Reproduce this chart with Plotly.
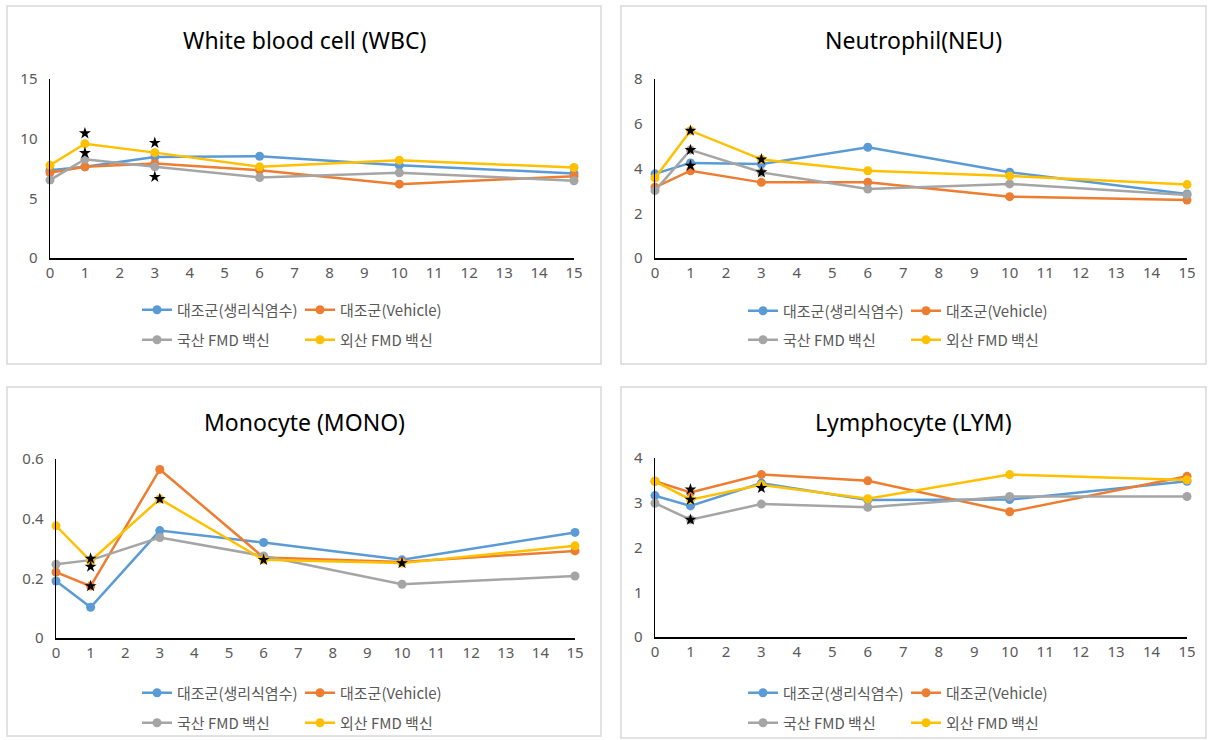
import plotly.graph_objects as go

days = [0, 1, 3, 6, 10, 15]
series_names = ["대조군(생리식염수)", "대조군(Vehicle)", "국산 FMD 백신", "외산 FMD 백신"]
colors = ["#5B9BD5", "#ED7D31", "#A5A5A5", "#FFC000"]

titles = ["White blood cell (WBC)", "Neutrophil(NEU)", "Monocyte (MONO)", "Lymphocyte (LYM)"]

wbc_saline = [7.36, 7.65, 8.47, 8.53, 7.78, 7.08]
wbc_vehicle = [7.14, 7.64, 7.92, 7.36, 6.19, 6.86]
wbc_domestic = [6.53, 8.28, 7.64, 6.75, 7.14, 6.47]
wbc_foreign = [7.78, 9.58, 8.83, 7.64, 8.19, 7.58]

neu_saline = [3.76, 4.25, 4.20, 4.95, 3.83, 2.86]
neu_vehicle = [3.16, 3.90, 3.38, 3.38, 2.74, 2.59]
neu_domestic = [3.01, 4.83, 3.83, 3.08, 3.31, 2.82]
neu_foreign = [3.58, 5.69, 4.41, 3.90, 3.67, 3.28]

mono_saline = [0.191, 0.103, 0.360, 0.320, 0.262, 0.354]
mono_vehicle = [0.221, 0.174, 0.565, 0.270, 0.255, 0.292]
mono_domestic = [0.247, 0.261, 0.337, 0.275, 0.180, 0.208]
mono_foreign = [0.376, 0.258, 0.466, 0.262, 0.251, 0.309]

lym_saline = [3.16, 2.93, 3.44, 3.06, 3.07, 3.48]
lym_vehicle = [3.48, 3.23, 3.63, 3.49, 2.80, 3.59]
lym_domestic = [2.99, 2.62, 2.97, 2.90, 3.14, 3.14]
lym_foreign = [3.48, 3.07, 3.40, 3.09, 3.63, 3.51]

wbc_star_x = [1, 1, 3, 3]
wbc_star_y = [10.45, 8.8, 9.65, 6.8]
neu_star_x = [1, 1, 1, 3, 3]
neu_star_y = [5.69, 4.83, 4.13, 4.41, 3.83]
mono_star_x = [1, 1, 1, 3, 6, 10]
mono_star_y = [0.266, 0.239, 0.174, 0.466, 0.262, 0.251]
lym_star_x = [1, 1, 1, 3]
lym_star_y = [3.30, 3.07, 2.62, 3.33]

y_max = [15, 8, 0.6, 4]
y_dtick = [5, 2, 0.2, 1]

panel_data = [
    [wbc_saline, wbc_vehicle, wbc_domestic, wbc_foreign],
    [neu_saline, neu_vehicle, neu_domestic, neu_foreign],
    [mono_saline, mono_vehicle, mono_domestic, mono_foreign],
    [lym_saline, lym_vehicle, lym_domestic, lym_foreign],
]
panel_stars = [
    (wbc_star_x, wbc_star_y),
    (neu_star_x, neu_star_y),
    (mono_star_x, mono_star_y),
    (lym_star_x, lym_star_y),
]

W, H = 1211, 740
FONT = "Noto Sans, Noto Sans CJK KR, sans-serif"
LFONT = "Noto Sans CJK KR, Noto Sans, sans-serif"

# pixel layouts
boxes = [(7, 601, 6, 364), (621, 1206, 6, 364), (7, 601, 387, 736), (621, 1206, 387, 738)]
plots = [(50, 574, 79, 258), (655, 1187, 79, 258), (56, 575, 459, 638), (655, 1187, 458, 637)]
title_y = [40, 40, 422, 422]
legend_pos = [(137, 310, 340), (743, 311, 340), (137, 693, 723), (743, 693, 723)]

def px(x):
    return x / W

def py(y):
    return 1 - y / H

fig = go.Figure()
layout = dict(
    width=W, height=H,
    margin=dict(l=0, r=0, t=0, b=0, pad=0, autoexpand=False),
    paper_bgcolor="white", plot_bgcolor="white",
    font=dict(family=FONT, color="#595959", size=15),
    shapes=[], annotations=[],
)

for p in range(4):
    ax = "" if p == 0 else str(p + 1)
    xa, ya = "x" + ax, "y" + ax
    for s in range(4):
        leg_idx = p * 2 + (1 if s < 2 else 2)
        leg = "legend" if leg_idx == 1 else f"legend{leg_idx}"
        fig.add_trace(go.Scatter(
            x=days, y=panel_data[p][s], mode="lines+markers",
            name=series_names[s], legend=leg,
            line=dict(color=colors[s], width=2.5),
            marker=dict(color=colors[s], size=9),
            xaxis=xa, yaxis=ya, cliponaxis=False, showlegend=True,
        ))
    sx, sy = panel_stars[p]
    fig.add_trace(go.Scatter(
        x=sx, y=sy, mode="markers", showlegend=False,
        marker=dict(symbol="star", color="black", size=9),
        xaxis=xa, yaxis=ya, cliponaxis=False,
    ))
    x0, x1, yt, yb = plots[p]
    layout["xaxis" + ax] = dict(
        domain=[px(x0), px(x1)], range=[0, 15], tick0=0, dtick=1,
        showgrid=False, zeroline=False, showline=True, linecolor="#000000", linewidth=1.5,
        ticks="", tickfont=dict(size=15, color="#595959"), anchor=ya, fixedrange=True,
        automargin=False,
    )
    layout["yaxis" + ax] = dict(
        domain=[py(yb), py(yt)], range=[0, y_max[p]], tick0=0, dtick=y_dtick[p],
        showgrid=False, zeroline=False, showline=True, linecolor="#000000", linewidth=1.5,
        ticks="", tickfont=dict(size=15, color="#595959"), anchor=xa, fixedrange=True,
        ticklabelstandoff=8, automargin=False,
    )
    bx0, bx1, by0, by1 = boxes[p]
    layout["shapes"].append(dict(
        type="rect", xref="paper", yref="paper",
        x0=px(bx0), x1=px(bx1), y0=py(by1), y1=py(by0),
        line=dict(color="#D9D9D9", width=1.5), fillcolor="rgba(0,0,0,0)", layer="below",
    ))
    layout["annotations"].append(dict(
        text=titles[p], xref="paper", yref="paper",
        x=px((bx0 + bx1) / 2), y=py(title_y[p]), xanchor="center", yanchor="middle",
        showarrow=False, font=dict(family=FONT, size=23, color="#000000"),
    ))
    lx, r1, r2 = legend_pos[p]
    for k, ry in enumerate([r1, r2]):
        leg_idx = p * 2 + 1 + k
        key = "legend" if leg_idx == 1 else f"legend{leg_idx}"
        layout[key] = dict(
            x=px(lx), y=py(ry), xanchor="left", yanchor="middle",
            orientation="h", itemwidth=30, entrywidth=118, entrywidthmode="pixels",
            font=dict(family=LFONT, size=15, color="#595959"),
            bgcolor="rgba(0,0,0,0)", traceorder="normal", itemclick=False, itemdoubleclick=False,
        )

fig.update_layout(**layout)
fig.write_html(
    "out.html",
    config={"displayModeBar": False, "staticPlot": True},
    post_script="document.body.style.margin='0px';document.body.style.overflow='hidden';",
)
